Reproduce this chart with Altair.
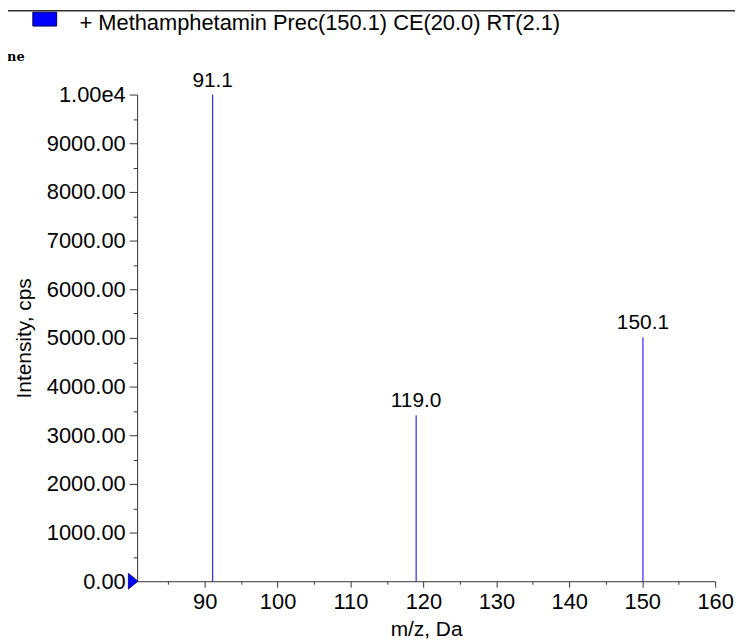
import altair as alt
import pandas as pd

# Peak data
mz = [91.1, 119.0, 150.1]
intensity = [10000, 3410, 5010]
peak_labels = ["91.1", "119.0", "150.1"]

x_major = [90, 100, 110, 120, 130, 140, 150, 160]
x_minor = [85, 95, 105, 115, 125, 135, 145, 155]
y_major = [0, 1000, 2000, 3000, 4000, 5000, 6000, 7000, 8000, 9000, 10000]
y_minor = [500, 1500, 2500, 3500, 4500, 5500, 6500, 7500, 8500, 9500]

title_text = "+ Methamphetamin Prec(150.1) CE(20.0) RT(2.1)"
x_title = "m/z, Da"
y_title = "Intensity, cps"

FONT = "Liberation Sans"
AXC = "#333333"

df = pd.DataFrame({"mz": mz, "intensity": intensity, "label": peak_labels})

x_scale = alt.Scale(domain=[80.74, 160], nice=False, zero=False)
y_scale = alt.Scale(domain=[0, 10000], nice=False)

x_axis = alt.Axis(
    values=x_major, format="d", tickSize=6,
    grid=False, labelFlush=False, labelOverlap=False,
    labelFont=FONT, labelFontSize=22, labelColor="black", labelPadding=4,
    title=x_title, titleFont=FONT, titleFontSize=21, titleFontWeight="normal",
    titleColor="black", titlePadding=7,
    domainColor=AXC, tickColor=AXC, orient="bottom",
)
x_axis_minor = alt.Axis(
    values=x_minor, tickSize=3, labels=False, domain=False, grid=False,
    title=None, tickColor=AXC, orient="bottom",
)
y_axis = alt.Axis(
    values=y_major,
    labelExpr="datum.value === 10000 ? '1.00e4' : format(datum.value, '.2f')",
    tickSize=8,
    grid=False, labelOverlap=False,
    labelFont=FONT, labelFontSize=22, labelColor="black", labelPadding=4,
    title=y_title, titleFont=FONT, titleFontSize=21, titleFontWeight="normal",
    titleColor="black", titlePadding=12,
    domainColor=AXC, tickColor=AXC, orient="left",
)
y_axis_minor = alt.Axis(
    values=y_minor, tickSize=4, labels=False, domain=False, grid=False,
    title=None, tickColor=AXC, orient="left",
)

base = alt.Chart(df)

rules = base.mark_rule(color="#0000ee", strokeWidth=1).encode(
    x=alt.X("mz:Q", scale=x_scale, axis=x_axis),
    y=alt.Y("intensity:Q", scale=y_scale, axis=y_axis),
    y2=alt.datum(0),
)

minor_df = pd.DataFrame({"xm": x_minor, "ym": y_minor[:len(x_minor)]})
minor = alt.Chart(minor_df).mark_point(opacity=0).encode(
    x=alt.X("xm:Q", scale=x_scale, axis=x_axis_minor),
    y=alt.Y("ym:Q", scale=y_scale, axis=y_axis_minor),
)

labels = base.mark_text(
    font=FONT, fontSize=21, color="black", baseline="bottom", dy=-4
).encode(
    x=alt.X("mz:Q", scale=x_scale, axis=None),
    y=alt.Y("intensity:Q", scale=y_scale, axis=None),
    text="label:N",
)

zero_df = pd.DataFrame({"y": [0]})
marker = alt.Chart(zero_df).mark_point(
    shape="M -0.6 -1 L 0.6 0 L -0.6 1 Z", size=256, filled=True,
    color="#0000ff", stroke="#000060", strokeWidth=0.8, opacity=1,
).encode(x=alt.value(-4), y=alt.Y("y:Q", scale=y_scale, axis=None))

title_df = pd.DataFrame({"t": [title_text]})
title = alt.Chart(title_df).mark_text(
    font=FONT, fontSize=22, color="black", align="left", baseline="middle"
).encode(x=alt.value(-58), y=alt.value(-72), text="t:N")

square = alt.Chart(title_df).mark_rect(
    color="#0000ff", stroke="#000060", strokeWidth=1
).encode(x=alt.value(-105), x2=alt.value(-81), y=alt.value(-83), y2=alt.value(-69))

topline = alt.Chart(title_df).mark_rule(color="#333333", strokeWidth=1.5).encode(
    x=alt.value(-130), x2=alt.value(610), y=alt.value(-84.5)
)

ne_df = pd.DataFrame({"t": ["ne"]})
ne = alt.Chart(ne_df).mark_text(
    font="DejaVu Serif", fontSize=13, fontWeight="bold", color="black",
    align="left", baseline="middle"
).encode(x=alt.value(-131), y=alt.value(-38), text="t:N")

chart = alt.layer(rules, minor, labels, marker, title, square, topline, ne).resolve_axis(
    x="independent", y="independent"
).properties(
    width=582, height=490,
    padding={"left": 130, "top": 85, "right": 20, "bottom": 58},
    autosize=alt.AutoSizeParams(type="none"),
).configure_view(stroke=None)

chart.save("out.html", embed_options={"renderer": "svg", "actions": False})
